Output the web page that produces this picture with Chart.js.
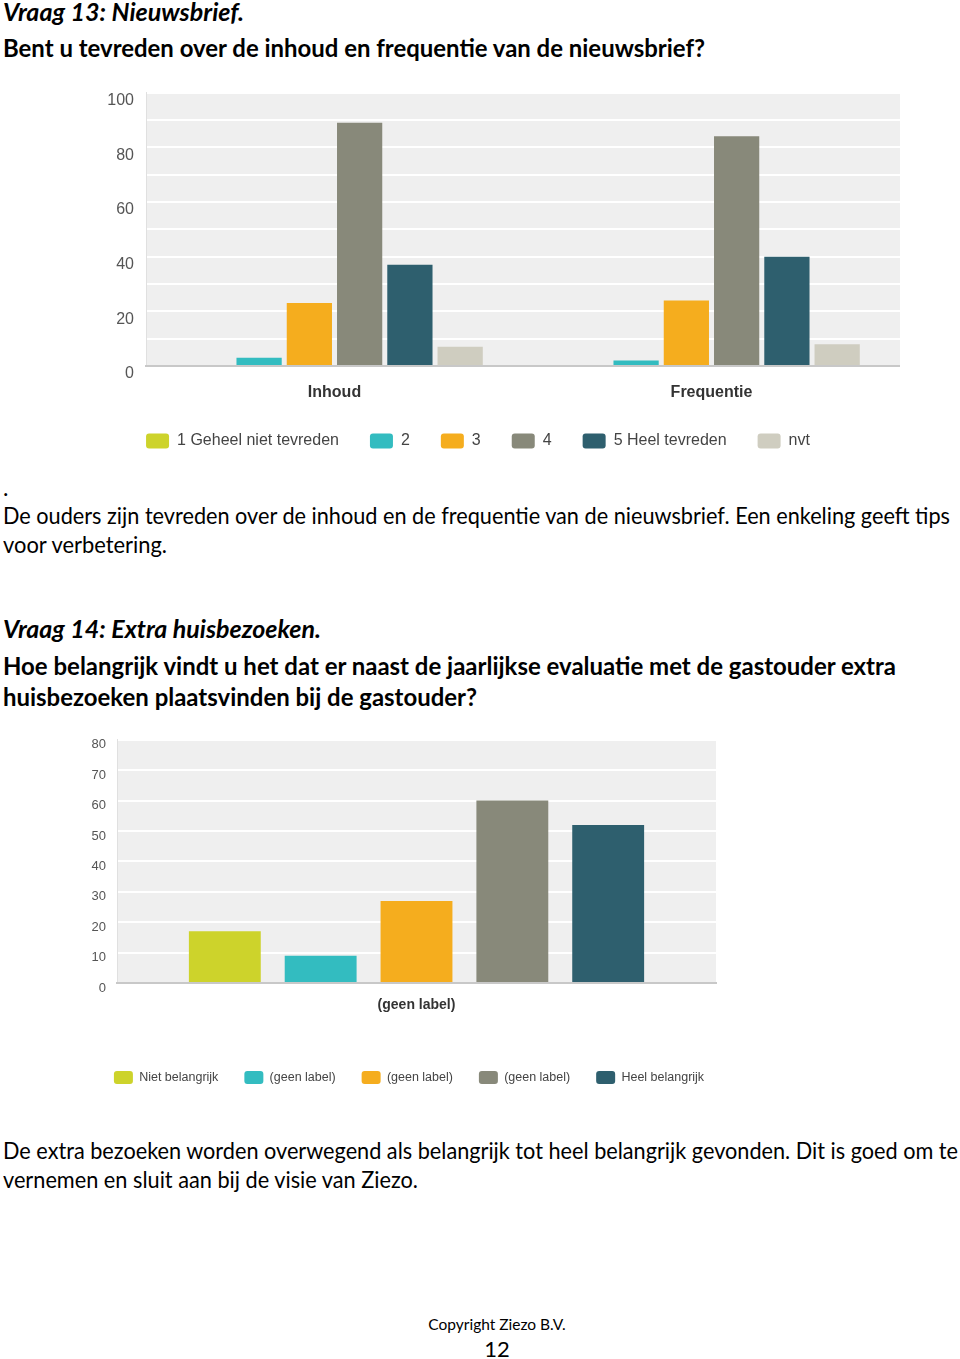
<!DOCTYPE html>
<html>
<head>
<meta charset="utf-8">
<script src="https://cdn.jsdelivr.net/npm/chart.js@4"></script>
<style>
  body { margin: 0; width: 960px; height: 1359px; position: relative; background: #fff; color: #000; font-family: Lato, "Noto Sans", sans-serif; overflow: hidden; }
  .t { position: absolute; left: 3px; white-space: nowrap; line-height: 1; transform-origin: 0 50%; }
  .h { font-size: 24px; font-weight: bold; }
  .i { font-style: italic; }
  .p { font-size: 23px; }
  .c { left: 0; width: 994px; text-align: center; transform-origin: 50% 50%; }
  #box1 { position: absolute; left: 56px; top: 71px; width: 844px; height: 388px; }
  #box2 { position: absolute; left: 78px; top: 721px; width: 662px; height: 373px; }
</style>
</head>
<body>
<div class="t h i" style="top:0px" data-w="241">Vraag 13: Nieuwsbrief.</div>
<div class="t h" style="top:36px" data-w="702">Bent u tevreden over de inhoud en frequentie van de nieuwsbrief?</div>
<div id="box1"><canvas id="grafiek1"></canvas></div>
<div class="t p" style="top:476px">.</div>
<div class="t p" style="top:504px" data-w="947">De ouders zijn tevreden over de inhoud en de frequentie van de nieuwsbrief. Een enkeling geeft tips</div>
<div class="t p" style="top:533px" data-w="164">voor verbetering.</div>
<div class="t h i" style="top:617px" data-w="318">Vraag 14: Extra huisbezoeken.</div>
<div class="t h" style="top:654px" data-w="893">Hoe belangrijk vindt u het dat er naast de jaarlijkse evaluatie met de gastouder extra</div>
<div class="t h" style="top:685px" data-w="474">huisbezoeken plaatsvinden bij de gastouder?</div>
<div id="box2"><canvas id="grafiek2"></canvas></div>
<div class="t p" style="top:1139px" data-w="955">De extra bezoeken worden overwegend als belangrijk tot heel belangrijk gevonden. Dit is goed om te</div>
<div class="t p" style="top:1168px" data-w="415">vernemen en sluit aan bij de visie van Ziezo.</div>
<div class="t c" style="top:1317px;font-size:15.5px">Copyright Ziezo B.V.</div>
<div class="t c" style="top:1338px;font-size:22px">12</div>

<script>
// Vraag 13
const categorieen1 = ["Inhoud", "Frequentie"];
const niveaus1 = ["1 Geheel niet tevreden", "2", "3", "4", "5 Heel tevreden", "nvt"];
const inhoud = [0, 3, 23, 89, 37, 7];
const frequentie = [0, 2, 24, 84, 40, 8];
const kleuren1 = ["#cdd32b", "#33bcc0", "#f5ad1e", "#88897a", "#2e5f6e", "#cfcdc0"];

// Vraag 14
const categorieen2 = ["(geen label)"];
const niveaus2 = ["Niet belangrijk", "(geen label)", "(geen label)", "(geen label)", "Heel belangrijk"];
const waarden2 = [17, 9, 27, 60, 52];
const kleuren2 = ["#cdd32b", "#33bcc0", "#f5ad1e", "#88897a", "#2e5f6e"];

// tekstregels op breedte zetten
document.querySelectorAll(".t[data-w]").forEach(el => {
  const w = el.getBoundingClientRect().width;
  el.style.transform = "scaleX(" + (parseFloat(el.dataset.w) / w) + ")";
});

const achtergrond = {
  id: "achtergrond",
  beforeDraw(chart) {
    const a = chart.chartArea;
    const c = chart.ctx;
    c.save();
    c.fillStyle = "#efefef";
    c.fillRect(a.left, a.top, a.right - a.left, a.bottom - a.top);
    c.restore();
  }
};

const lettertype = "'Liberation Sans', Arial, sans-serif";

new Chart(document.getElementById("grafiek1"), {
  type: "bar",
  data: {
    labels: categorieen1,
    datasets: niveaus1.map((n, i) => ({
      label: n,
      data: [inhoud[i], frequentie[i]],
      backgroundColor: kleuren1[i],
      barPercentage: 0.9,
      categoryPercentage: 0.8
    }))
  },
  plugins: [achtergrond],
  options: {
    responsive: true,
    maintainAspectRatio: false,
    animation: false,
    layout: { padding: { top: 9, right: 0, left: 0, bottom: 0 } },
    plugins: {
      tooltip: { enabled: false },
      legend: {
        position: "bottom",
        labels: {
          boxWidth: 23, boxHeight: 15, useBorderRadius: true, borderRadius: 3,
          padding: 31, color: "#444",
          font: { family: lettertype, size: 16 }
        }
      }
    },
    scales: {
      y: {
        min: 0, max: 100,
        afterFit: s => { s.width = 90; },
        ticks: {
          stepSize: 10,
          callback: v => (v % 20 === 0 ? v : ""),
          color: "#555", padding: 12, labelOffset: 8,
          font: { family: lettertype, size: 16 }
        },
        grid: { color: "#ffffff", lineWidth: 2, drawTicks: false },
        border: { color: "#e0e0e0" }
      },
      x: {
        afterFit: s => { s.height = 36; },
        ticks: { color: "#333", padding: 9, font: { family: lettertype, size: 16, weight: "bold" } },
        grid: { display: false },
        border: { color: "#c8c8c8", width: 2 }
      }
    }
  }
});

new Chart(document.getElementById("grafiek2"), {
  type: "bar",
  data: {
    labels: categorieen2,
    datasets: niveaus2.map((n, i) => ({
      label: n,
      data: [waarden2[i]],
      backgroundColor: kleuren2[i],
      barPercentage: 0.75,
      categoryPercentage: 0.8
    }))
  },
  plugins: [achtergrond],
  options: {
    responsive: true,
    maintainAspectRatio: false,
    animation: false,
    layout: { padding: { top: 11, right: 0, left: 0, bottom: 0 } },
    plugins: {
      tooltip: { enabled: false },
      legend: {
        position: "bottom",
        labels: {
          boxWidth: 19, boxHeight: 13, useBorderRadius: true, borderRadius: 3,
          padding: 26, color: "#444",
          font: { family: lettertype, size: 12.5 }
        }
      }
    },
    scales: {
      y: {
        min: 0, max: 80,
        afterFit: s => { s.width = 39; },
        ticks: {
          stepSize: 10, color: "#555", padding: 11, labelOffset: 5,
          font: { family: lettertype, size: 13 }
        },
        grid: { color: "#ffffff", lineWidth: 2, drawTicks: false },
        border: { color: "#e0e0e0" }
      },
      rechts: {
        position: "right",
        afterFit: s => { s.width = 24; },
        ticks: { display: false },
        grid: { display: false },
        border: { display: false }
      },
      x: {
        afterFit: s => { s.height = 62; },
        ticks: { color: "#333", padding: 6, font: { family: lettertype, size: 14, weight: "bold" } },
        grid: { display: false },
        border: { color: "#c8c8c8", width: 2 }
      }
    }
  }
});
</script>
</body>
</html>
